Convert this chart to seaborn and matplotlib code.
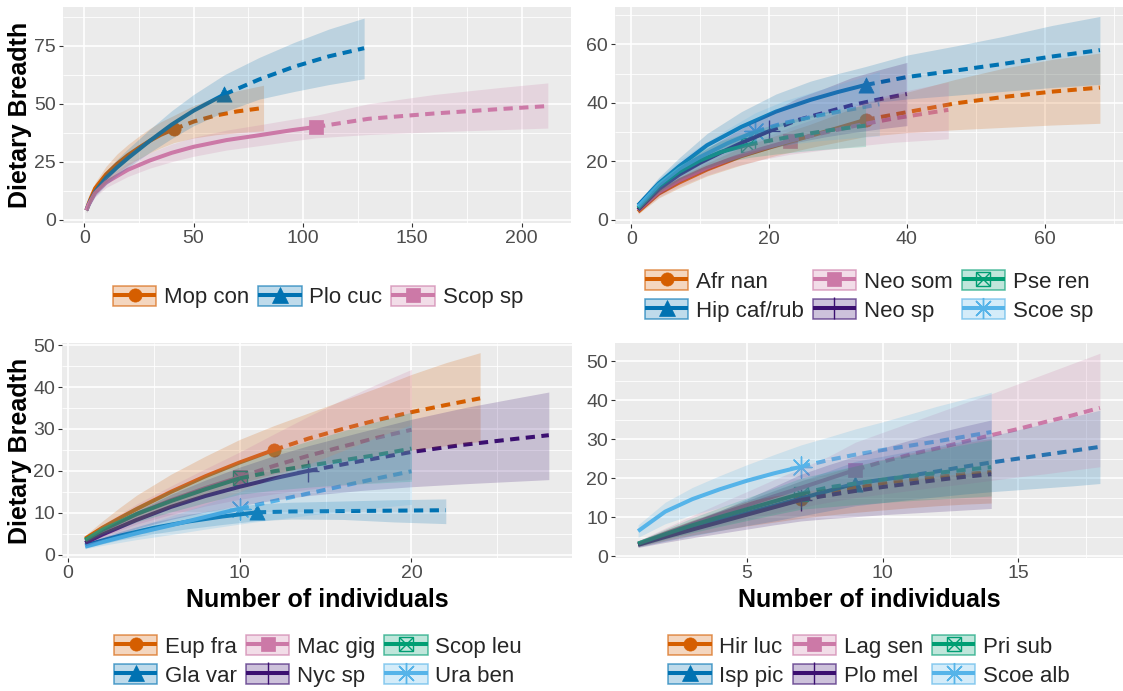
import numpy as np
import matplotlib
matplotlib.use("Agg")
import matplotlib.pyplot as plt
import seaborn as sns
from matplotlib.patches import Patch
from matplotlib.lines import Line2D
from matplotlib.legend_handler import HandlerTuple
from matplotlib.colors import to_rgba
from matplotlib.ticker import MultipleLocator

# ---------------------------------------------------------------- data
# Each species: sample sizes (m), estimated diversity (qd), 95% band (lo, hi)
# and the observed number of individuals (n). m <= n is rarefaction, m >= n extrapolation.

# Panel A
mop_con_m  = [1, 2, 3, 5, 10, 15, 20, 25, 30, 35, 41, 50, 60, 70, 82]
mop_con_qd = [4.0, 6.8, 9.2, 13.5, 19.5, 24.0, 27.8, 31.0, 34.0, 36.6, 39.0, 42.3, 44.9, 46.7, 48.2]
mop_con_lo = [3.0, 5.4, 7.5, 11.0, 16.0, 20.0, 23.4, 26.3, 28.8, 30.9, 33.2, 35.2, 36.6, 37.5, 38.3]
mop_con_hi = [5.0, 8.2, 10.9, 16.0, 23.0, 28.3, 32.4, 36.0, 39.3, 42.2, 45.0, 49.2, 52.8, 55.6, 58.0]
mop_con_n = 41

plo_cuc_m  = [1, 2, 3, 5, 10, 15, 20, 30, 40, 50, 64, 80, 96, 112, 128]
plo_cuc_qd = [4.0, 6.4, 8.4, 12.0, 18.0, 22.5, 26.5, 34.0, 41.0, 47.0, 54.0, 60.5, 66.0, 70.5, 74.0]
plo_cuc_lo = [3.0, 5.1, 6.9, 10.0, 15.0, 19.0, 22.5, 29.0, 35.0, 40.5, 46.5, 52.0, 55.3, 58.3, 60.8]
plo_cuc_hi = [5.0, 7.7, 9.9, 14.0, 21.0, 26.0, 30.5, 39.0, 47.0, 54.0, 62.5, 70.0, 76.5, 82.3, 87.0]
plo_cuc_n = 64

scop_sp_m  = [1, 2, 3, 5, 10, 20, 30, 40, 50, 65, 80, 95, 106, 130, 160, 190, 212]
scop_sp_qd = [4.0, 6.3, 8.1, 11.5, 16.0, 21.5, 25.5, 28.8, 31.4, 34.3, 36.4, 38.6, 40.0, 43.5, 45.8, 47.7, 49.0]
scop_sp_lo = [3.0, 5.2, 6.8, 9.8, 13.8, 18.6, 22.2, 25.0, 27.3, 30.0, 31.9, 33.9, 35.3, 36.7, 37.9, 38.8, 39.5]
scop_sp_hi = [5.0, 7.4, 9.4, 13.2, 18.2, 24.4, 28.8, 32.6, 35.5, 38.6, 40.9, 43.3, 45.0, 50.0, 54.0, 57.0, 59.0]
scop_sp_n = 106

# Panel B
afr_nan_m  = [1, 4, 7, 11, 16, 21, 26, 30, 34, 40, 47, 54, 61, 68]
afr_nan_qd = [2.8, 9.0, 12.8, 17.2, 21.8, 25.4, 28.7, 31.4, 34.2, 36.8, 39.8, 42.0, 43.8, 45.2]
afr_nan_lo = [2.0, 7.5, 11.0, 15.0, 18.8, 22.0, 24.7, 26.6, 28.5, 29.8, 30.8, 31.6, 32.4, 33.0]
afr_nan_hi = [3.6, 10.5, 14.6, 19.4, 24.8, 28.8, 32.7, 36.2, 40.0, 43.6, 48.0, 51.8, 54.8, 57.0]
afr_nan_n = 34

hip_caf_m  = [1, 4, 7, 11, 16, 21, 26, 30, 34, 40, 47, 54, 61, 68]
hip_caf_qd = [5.0, 12.5, 18.4, 25.5, 31.8, 37.0, 41.0, 43.7, 46.1, 48.8, 51.0, 53.3, 55.8, 58.0]
hip_caf_lo = [3.8, 10.5, 15.5, 21.5, 27.0, 31.5, 35.0, 37.5, 39.8, 41.3, 42.6, 43.9, 45.2, 46.3]
hip_caf_hi = [6.2, 14.5, 21.3, 29.5, 37.0, 43.0, 47.4, 50.0, 52.4, 56.3, 59.4, 62.7, 66.4, 69.5]
hip_caf_n = 34

neo_som_m  = [1, 4, 7, 11, 15, 19, 23, 28, 33, 38, 46]
neo_som_qd = [3.3, 9.5, 13.5, 17.8, 21.3, 24.3, 27.0, 29.8, 32.4, 34.6, 37.6]
neo_som_lo = [2.5, 7.8, 11.5, 15.3, 18.3, 20.6, 22.4, 23.9, 25.3, 26.5, 27.7]
neo_som_hi = [4.1, 11.2, 15.5, 20.3, 24.3, 28.0, 31.6, 35.7, 39.5, 43.2, 47.1]
neo_som_n = 23

neo_sp_m  = [1, 4, 7, 10, 13, 16, 20, 24, 28, 32, 36, 40]
neo_sp_qd = [3.5, 10.5, 15.5, 19.5, 23.0, 26.3, 30.3, 34.0, 36.6, 39.2, 41.2, 43.0]
neo_sp_lo = [2.6, 8.5, 12.8, 16.0, 18.8, 21.4, 24.2, 26.5, 28.3, 29.8, 31.1, 32.2]
neo_sp_hi = [4.4, 12.5, 18.2, 23.0, 27.2, 31.2, 36.4, 41.5, 44.9, 48.6, 51.3, 53.8]
neo_sp_n = 20

pse_ren_m  = [1, 4, 7, 10, 13, 17, 21, 25, 29, 34]
pse_ren_qd = [4.0, 11.5, 16.5, 20.3, 23.2, 25.7, 27.5, 29.2, 30.7, 32.2]
pse_ren_lo = [3.0, 9.5, 13.8, 17.0, 19.4, 21.3, 22.5, 23.5, 24.3, 25.1]
pse_ren_hi = [5.0, 13.5, 19.2, 23.6, 27.0, 30.1, 32.8, 35.2, 37.3, 39.1]
pse_ren_n = 17

scoe_sp_m  = [1, 4, 7, 10, 14, 18, 22, 27, 32, 36]
scoe_sp_qd = [4.5, 12.0, 17.5, 21.5, 26.2, 30.2, 33.0, 35.6, 37.8, 39.5]
scoe_sp_lo = [3.4, 10.0, 14.6, 17.8, 21.3, 23.8, 25.5, 27.0, 28.0, 28.7]
scoe_sp_hi = [5.6, 14.0, 20.4, 25.2, 31.1, 36.6, 40.5, 44.2, 47.7, 50.7]
scoe_sp_n = 18

# Panel C
eup_fra_m  = [1, 2, 3, 4, 6, 8, 10, 12, 14, 16, 18, 20, 22, 24]
eup_fra_qd = [3.8, 6.4, 8.7, 10.9, 15.0, 18.7, 22.0, 25.0, 27.7, 30.0, 32.1, 34.0, 35.7, 37.3]
eup_fra_lo = [3.0, 5.0, 6.6, 8.0, 11.5, 14.5, 17.0, 19.3, 21.0, 22.4, 23.7, 24.9, 26.0, 27.0]
eup_fra_hi = [4.6, 8.0, 11.2, 14.2, 19.2, 23.5, 27.5, 30.8, 33.8, 36.8, 39.8, 43.0, 45.8, 48.2]
eup_fra_n = 12

gla_var_m  = [1, 3, 5, 7, 9, 11, 13, 16, 19, 22]
gla_var_qd = [2.2, 4.5, 6.4, 7.9, 9.1, 10.1, 10.3, 10.4, 10.5, 10.6]
gla_var_lo = [1.6, 3.5, 5.0, 6.2, 7.2, 8.1, 8.5, 8.4, 7.8, 7.4]
gla_var_hi = [2.8, 5.5, 7.8, 9.6, 11.0, 12.1, 12.5, 12.8, 13.1, 13.3]
gla_var_n = 11

mac_gig_m  = [1, 2, 4, 6, 8, 10, 12, 14, 16, 18, 20]
mac_gig_qd = [3.3, 5.7, 9.7, 13.0, 15.9, 18.5, 21.2, 23.6, 25.8, 27.9, 29.8]
mac_gig_lo = [2.5, 4.3, 7.3, 9.6, 11.6, 13.2, 14.5, 15.6, 16.5, 17.3, 18.0]
mac_gig_hi = [4.1, 7.1, 12.1, 16.4, 20.5, 24.5, 28.8, 33.0, 37.0, 40.7, 44.2]
mac_gig_n = 10

nyc_sp_m  = [1, 2, 4, 6, 8, 10, 12, 14, 17, 20, 23, 26, 28]
nyc_sp_qd = [2.8, 4.8, 8.3, 11.4, 14.0, 16.2, 18.2, 20.0, 22.3, 24.5, 26.2, 27.6, 28.5]
nyc_sp_lo = [2.1, 3.6, 6.2, 8.4, 10.2, 11.7, 13.0, 14.1, 15.3, 16.2, 16.9, 17.5, 17.9]
nyc_sp_hi = [3.5, 6.0, 10.4, 14.4, 17.8, 20.9, 23.6, 26.0, 29.2, 32.3, 35.0, 37.3, 38.8]
nyc_sp_n = 14

scop_leu_m  = [1, 2, 4, 6, 8, 10, 12, 14, 16, 18, 20]
scop_leu_qd = [3.5, 5.9, 9.7, 12.8, 15.6, 18.2, 19.9, 21.2, 22.5, 23.8, 25.3]
scop_leu_lo = [2.8, 4.8, 7.8, 10.2, 12.4, 14.4, 15.4, 16.1, 16.7, 17.1, 17.5]
scop_leu_hi = [4.2, 7.0, 11.6, 15.4, 18.8, 22.0, 24.6, 27.1, 29.5, 31.8, 34.0]
scop_leu_n = 10

ura_ben_m  = [1, 2, 4, 6, 8, 10, 12, 14, 16, 18, 20]
ura_ben_qd = [1.9, 3.0, 5.1, 7.0, 9.0, 11.0, 12.8, 14.6, 16.4, 18.2, 19.9]
ura_ben_lo = [1.4, 2.2, 3.6, 4.8, 6.1, 7.3, 8.4, 9.4, 10.3, 11.2, 12.0]
ura_ben_hi = [2.5, 3.9, 6.6, 9.2, 12.0, 15.0, 18.4, 21.6, 24.8, 28.0, 31.0]
ura_ben_n = 10

# Panel D
hir_luc_m  = [1, 2, 3, 4, 5, 6, 7, 8, 9, 10, 11, 12, 13, 14]
hir_luc_qd = [3.0, 5.3, 7.3, 9.1, 10.9, 12.7, 14.5, 16.2, 17.5, 18.7, 19.6, 20.3, 21.0, 21.6]
hir_luc_lo = [2.4, 4.0, 5.4, 6.6, 7.7, 8.7, 9.7, 10.5, 11.2, 11.8, 12.4, 12.9, 13.3, 13.6]
hir_luc_hi = [3.6, 6.6, 9.2, 11.6, 14.1, 16.7, 19.3, 21.2, 23.1, 24.8, 26.4, 27.8, 29.0, 30.2]
hir_luc_n = 7

isp_pic_m  = [1, 2, 3, 4, 5, 6, 7, 8, 9, 10, 11, 12, 13, 14, 15, 16, 17, 18]
isp_pic_qd = [3.0, 5.2, 7.2, 9.1, 11.0, 12.9, 14.8, 16.7, 18.6, 19.6, 20.6, 21.7, 22.9, 24.0, 25.0, 26.0, 27.0, 28.0]
isp_pic_lo = [2.3, 3.8, 5.2, 6.5, 7.8, 9.0, 10.3, 11.6, 12.9, 13.7, 14.5, 15.2, 15.9, 16.5, 17.0, 17.5, 18.0, 18.6]
isp_pic_hi = [3.7, 6.6, 9.2, 11.7, 14.2, 16.8, 19.3, 21.8, 24.3, 25.6, 26.9, 28.2, 29.5, 30.8, 32.4, 34.0, 35.7, 37.4]
isp_pic_n = 9

lag_sen_m  = [1, 2, 3, 4, 5, 6, 7, 8, 9, 10, 11, 12, 13, 14, 15, 16, 17, 18]
lag_sen_qd = [3.2, 5.8, 8.3, 10.7, 13.0, 15.3, 17.5, 19.8, 22.1, 24.2, 26.0, 27.6, 29.3, 31.0, 32.6, 34.4, 36.1, 38.0]
lag_sen_lo = [2.5, 4.4, 6.2, 7.9, 9.5, 11.0, 12.5, 13.8, 15.0, 15.9, 16.8, 17.7, 18.5, 19.4, 20.3, 21.1, 22.0, 22.9]
lag_sen_hi = [3.9, 7.2, 10.4, 13.5, 16.5, 19.6, 22.5, 25.5, 29.2, 31.7, 34.2, 36.7, 39.2, 41.6, 44.2, 46.8, 49.4, 52.0]
lag_sen_n = 9

plo_mel_m  = [1, 2, 3, 4, 5, 6, 7, 8, 9, 10, 11, 12, 13, 14]
plo_mel_qd = [2.9, 4.9, 6.8, 8.7, 10.6, 12.5, 14.4, 15.6, 16.7, 17.7, 18.6, 19.5, 20.3, 21.0]
plo_mel_lo = [2.2, 3.5, 4.7, 5.8, 6.9, 8.0, 9.0, 9.6, 10.1, 10.6, 11.0, 11.4, 11.8, 12.2]
plo_mel_hi = [3.6, 6.3, 8.9, 11.6, 14.6, 17.8, 21.0, 23.4, 25.6, 27.7, 29.7, 31.6, 33.3, 34.9]
plo_mel_n = 7

pri_sub_m  = [1, 2, 3, 4, 5, 6, 7, 8, 9, 10, 11, 12, 13, 14]
pri_sub_qd = [3.2, 5.6, 7.9, 10.0, 12.0, 14.0, 16.0, 17.6, 18.6, 19.6, 20.5, 21.3, 22.1, 22.8]
pri_sub_lo = [2.5, 4.3, 6.0, 7.6, 9.1, 10.6, 12.0, 12.6, 13.2, 13.7, 14.2, 14.6, 15.0, 15.4]
pri_sub_hi = [3.9, 6.9, 9.8, 12.4, 14.9, 17.4, 20.0, 21.6, 23.1, 24.6, 26.0, 27.3, 28.6, 29.8]
pri_sub_n = 7

scoe_alb_m  = [1, 2, 3, 4, 5, 6, 7, 8, 9, 10, 11, 12, 13, 14]
scoe_alb_qd = [6.4, 11.4, 14.6, 17.1, 19.3, 21.2, 22.9, 24.6, 26.0, 27.2, 28.3, 29.4, 30.6, 31.8]
scoe_alb_lo = [4.8, 8.3, 10.6, 12.4, 14.0, 15.4, 16.5, 17.4, 18.2, 19.0, 19.8, 20.5, 21.2, 22.0]
scoe_alb_hi = [8.0, 13.8, 17.6, 20.6, 23.4, 26.0, 28.5, 30.5, 32.6, 34.4, 36.4, 38.4, 40.2, 42.0]
scoe_alb_n = 7

panel_a = [("Mop con", mop_con_m, mop_con_qd, mop_con_lo, mop_con_hi, mop_con_n),
           ("Plo cuc", plo_cuc_m, plo_cuc_qd, plo_cuc_lo, plo_cuc_hi, plo_cuc_n),
           ("Scop sp", scop_sp_m, scop_sp_qd, scop_sp_lo, scop_sp_hi, scop_sp_n)]
panel_b = [("Afr nan", afr_nan_m, afr_nan_qd, afr_nan_lo, afr_nan_hi, afr_nan_n),
           ("Hip caf/rub", hip_caf_m, hip_caf_qd, hip_caf_lo, hip_caf_hi, hip_caf_n),
           ("Neo som", neo_som_m, neo_som_qd, neo_som_lo, neo_som_hi, neo_som_n),
           ("Neo sp", neo_sp_m, neo_sp_qd, neo_sp_lo, neo_sp_hi, neo_sp_n),
           ("Pse ren", pse_ren_m, pse_ren_qd, pse_ren_lo, pse_ren_hi, pse_ren_n),
           ("Scoe sp", scoe_sp_m, scoe_sp_qd, scoe_sp_lo, scoe_sp_hi, scoe_sp_n)]
panel_c = [("Eup fra", eup_fra_m, eup_fra_qd, eup_fra_lo, eup_fra_hi, eup_fra_n),
           ("Gla var", gla_var_m, gla_var_qd, gla_var_lo, gla_var_hi, gla_var_n),
           ("Mac gig", mac_gig_m, mac_gig_qd, mac_gig_lo, mac_gig_hi, mac_gig_n),
           ("Nyc sp", nyc_sp_m, nyc_sp_qd, nyc_sp_lo, nyc_sp_hi, nyc_sp_n),
           ("Scop leu", scop_leu_m, scop_leu_qd, scop_leu_lo, scop_leu_hi, scop_leu_n),
           ("Ura ben", ura_ben_m, ura_ben_qd, ura_ben_lo, ura_ben_hi, ura_ben_n)]
panel_d = [("Hir luc", hir_luc_m, hir_luc_qd, hir_luc_lo, hir_luc_hi, hir_luc_n),
           ("Isp pic", isp_pic_m, isp_pic_qd, isp_pic_lo, isp_pic_hi, isp_pic_n),
           ("Lag sen", lag_sen_m, lag_sen_qd, lag_sen_lo, lag_sen_hi, lag_sen_n),
           ("Plo mel", plo_mel_m, plo_mel_qd, plo_mel_lo, plo_mel_hi, plo_mel_n),
           ("Pri sub", pri_sub_m, pri_sub_qd, pri_sub_lo, pri_sub_hi, pri_sub_n),
           ("Scoe alb", scoe_alb_m, scoe_alb_qd, scoe_alb_lo, scoe_alb_hi, scoe_alb_n)]

# ---------------------------------------------------------------- style
COLORS = ["#D55E00", "#0072B2", "#CC79A7", "#3B0F70", "#009E73", "#56B4E9"]
LW = 2.9
DASH = (0, (2.3, 1.6))
Y_TITLE = "Dietary Breadth"
X_TITLE = "Number of individuals"

sns.set_theme(style="darkgrid", rc={
    "axes.facecolor": "#EBEBEB",
    "figure.facecolor": "white",
    "grid.color": "white",
    "grid.linewidth": 1.2,
    "axes.axisbelow": True,
    "xtick.bottom": True,
    "ytick.left": True,
    "xtick.major.size": 3,
    "ytick.major.size": 3,
    "xtick.major.width": 0.8,
    "ytick.major.width": 0.8,
    "xtick.color": "#333333",
    "ytick.color": "#333333",
    "xtick.labelcolor": "#4D4D4D",
    "ytick.labelcolor": "#4D4D4D",
    "xtick.labelsize": 14,
    "ytick.labelsize": 14,
    "xtick.major.pad": 2.0,
    "ytick.major.pad": 2.0,
    "lines.solid_capstyle": "butt",
    "lines.dash_capstyle": "butt",
})
plt.rcParams["font.family"] = ["Liberation Sans", "DejaVu Sans"]

W, H = 1123, 691
fig = plt.figure(figsize=(W / 100, H / 100), dpi=100)


def box(l, r, t, b):
    return [l / W, 1 - b / H, (r - l) / W, (b - t) / H]


def marker_kw(i):
    if i == 0:
        return [dict(marker="o", s=90, lw=0.5)]
    if i == 1:
        return [dict(marker="^", s=120, lw=0.5)]
    if i == 2:
        return [dict(marker="s", s=90, lw=0.5)]
    if i == 3:
        return [dict(marker="+", s=230, lw=1.0)]
    if i == 4:
        return [dict(marker="s", s=100, lw=1.0, open=True), dict(marker="x", s=100, lw=1.0)]
    return [dict(marker=(8, 2, 0), s=230, lw=1.0)]


def draw_panel(ax, series):
    # observed points first, then curves, then the translucent bands on top
    for i, (name, m, qd, lo, hi, n) in enumerate(series):
        k = m.index(n)
        for kw in marker_kw(i):
            kw = dict(kw)
            is_open = kw.pop("open", False)
            ax.scatter([m[k]], [qd[k]], marker=kw["marker"], s=kw["s"],
                       facecolors="none" if is_open else COLORS[i],
                       edgecolors=COLORS[i], linewidths=kw["lw"], zorder=3)
    for i, (name, m, qd, lo, hi, n) in enumerate(series):
        m_arr = np.asarray(m)
        q_arr = np.asarray(qd)
        a = m_arr <= n
        b = m_arr >= n
        sns.lineplot(x=m_arr[a], y=q_arr[a], color=COLORS[i], linewidth=LW,
                     estimator=None, sort=False, ax=ax, zorder=4)
        sns.lineplot(x=m_arr[b], y=q_arr[b], color=COLORS[i], linewidth=LW,
                     linestyle=DASH, estimator=None, sort=False, ax=ax, zorder=4)
    for i, (name, m, qd, lo, hi, n) in enumerate(series):
        ax.fill_between(m, lo, hi, color=COLORS[i], alpha=0.2, linewidth=0, zorder=5)


def legend_handles(series):
    handles = []
    for i, _ in enumerate(series):
        c = COLORS[i]
        parts = [Patch(facecolor=to_rgba(c, 0.25), edgecolor=to_rgba(c, 0.65), linewidth=1.1)]
        for j, kw in enumerate(marker_kw(i)):
            is_open = kw.get("open", False)
            parts.append(Line2D([], [], color=c, linewidth=LW if j == 0 else 0,
                                solid_capstyle="butt",
                                marker=kw["marker"], markersize=np.sqrt(kw["s"]),
                                markerfacecolor="none" if is_open else c,
                                markeredgecolor=c, markeredgewidth=kw["lw"]))
        handles.append(tuple(parts))
    return handles


def style_axes(ax, xlim, ylim, xmaj, ymaj):
    ax.set_xlim(*xlim)
    ax.set_ylim(*ylim)
    ax.xaxis.set_major_locator(MultipleLocator(xmaj))
    ax.yaxis.set_major_locator(MultipleLocator(ymaj))
    ax.xaxis.set_minor_locator(MultipleLocator(xmaj / 2))
    ax.yaxis.set_minor_locator(MultipleLocator(ymaj / 2))
    ax.grid(which="major", color="white", linewidth=1.2)
    ax.grid(which="minor", color="white", linewidth=0.6)
    ax.tick_params(which="minor", length=0)
    for sp in ax.spines.values():
        sp.set_visible(False)
    ax.set_xlabel("")
    ax.set_ylabel("")


panels = [
    (panel_a, box(63, 571, 6.5, 223), (-9.7, 222.6), (-1.5, 92.0), 50, 25, (318, 297), 3),
    (panel_b, box(615, 1123, 6.5, 224), (-2.35, 71.35), (-1.4, 72.9), 20, 20, (869, 296), 3),
    (panel_c, box(62, 572, 343, 558), (-0.35, 29.35), (-0.8, 50.5), 10, 10, (318, 661), 3),
    (panel_d, box(615, 1123, 343.5, 558), (0.15, 18.85), (-0.5, 54.5), 5, 10, (869, 661), 3),
]

for series, pos, xl, yl, xm, ym, legpos, ncol in panels:
    ax = fig.add_axes(pos)
    draw_panel(ax, series)
    style_axes(ax, xl, yl, xm, ym)
    fig.legend(legend_handles(series), [s[0] for s in series],
               handler_map={tuple: HandlerTuple(ndivide=1, pad=0)},
               loc="center", bbox_to_anchor=(legpos[0] / W, 1 - legpos[1] / H),
               ncol=ncol, frameon=False, fontsize=16, handlelength=1.95,
               handleheight=1.0, handletextpad=0.35, columnspacing=0.4,
               labelspacing=0.28, borderpad=0.0, borderaxespad=0.0)

# axis titles
for yc in (114.5, 450.5):
    fig.text(20 / W, 1 - yc / H, Y_TITLE, rotation=90, ha="center", va="center",
             fontsize=18, fontweight="bold", color="black")
for xc in (317, 869):
    fig.text(xc / W, 1 - 600 / H, X_TITLE, ha="center", va="center",
             fontsize=18, fontweight="bold", color="black")

fig.savefig("out.png", dpi=100)
